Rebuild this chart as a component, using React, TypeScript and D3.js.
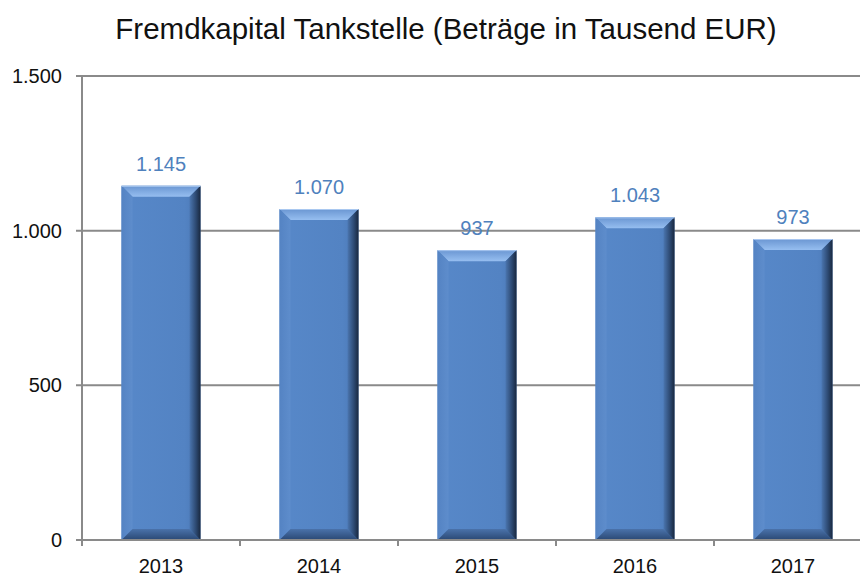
import React from "react";
import * as d3 from "d3";

const title = "Fremdkapital Tankstelle (Beträge in Tausend EUR)";
const years = ["2013", "2014", "2015", "2016", "2017"];
const values = [1145, 1070, 937, 1043, 973];
const yTicks = [0, 500, 1000, 1500];

const fmt = (v: number) => d3.format(",")(v).replace(/,/g, ".");

export default function App() {
  const W = 860, H = 576;
  const left = 82, right = 872, top = 76, bottom = 540;
  const x = d3.scaleBand<string>().domain(years).range([left, right]).paddingInner(0.5).paddingOuter(0.25);
  const y = d3.scaleLinear().domain([0, 1500]).range([bottom, top]);
  const step = x.step();
  const font = "'Liberation Sans', Arial, Helvetica, sans-serif";
  const bev = 11;

  return (
    <svg width={W} height={H} style={{ position: "absolute", left: 0, top: 0 }} fontFamily={font}>
      <defs>
        <linearGradient id="gTop" x1="0" y1="0" x2="0" y2="1">
          <stop offset="0" stopColor="#6A96D2" />
          <stop offset="1" stopColor="#96BEF0" />
        </linearGradient>
        <linearGradient id="gRight" x1="0" y1="0" x2="1" y2="0">
          <stop offset="0" stopColor="#4B76B0" />
          <stop offset="0.6" stopColor="#2C4870" />
          <stop offset="1" stopColor="#19283F" />
        </linearGradient>
        <linearGradient id="gBottom" x1="0" y1="0" x2="0" y2="1">
          <stop offset="0" stopColor="#4A72AA" />
          <stop offset="1" stopColor="#2A4874" />
        </linearGradient>
        <linearGradient id="gLeft" x1="0" y1="0" x2="1" y2="0">
          <stop offset="0" stopColor="#5483C3" />
          <stop offset="1" stopColor="#5E8DCC" />
        </linearGradient>
        <linearGradient id="gFace" x1="0" y1="0" x2="1" y2="0">
          <stop offset="0" stopColor="#5788C9" />
          <stop offset="0.8" stopColor="#5383C3" />
          <stop offset="1" stopColor="#4A77B4" />
        </linearGradient>
      </defs>
      <rect width={W} height={H} fill="#fff" />
      <text x={446} y={39} textAnchor="middle" fontSize={29.5} fill="#111">{title}</text>
      {yTicks.map((t) => (
        <g key={t}>
          {t > 0 && <line x1={left - 6} x2={W} y1={y(t)} y2={y(t)} stroke="#8a8a8a" strokeWidth={2} />}
          {t === 0 && <line x1={left - 6} x2={left} y1={y(t)} y2={y(t)} stroke="#8a8a8a" strokeWidth={2} />}
          <text x={62} y={y(t) + 7} textAnchor="end" fontSize={20} fill="#111">{fmt(t)}</text>
        </g>
      ))}
      {years.map((yr, i) => {
        const x0 = x(yr)!;
        const w = x.bandwidth();
        const y0 = y(values[i]);
        const x1 = x0 + w, y1 = bottom;
        const b = Math.min(bev, (y1 - y0) / 2);
        return (
          <g key={yr}>
            <rect x={x0} y={y0} width={w} height={y1 - y0} fill="url(#gFace)" />
            <polygon points={`${x0},${y0} ${x1},${y0} ${x1 - b},${y0 + b} ${x0 + b},${y0 + b}`} fill="url(#gTop)" />
            <polygon points={`${x0},${y0} ${x0 + b},${y0 + b} ${x0 + b},${y1 - b} ${x0},${y1}`} fill="url(#gLeft)" />
            <polygon points={`${x0},${y1} ${x0 + b},${y1 - b} ${x1 - b},${y1 - b} ${x1},${y1}`} fill="url(#gBottom)" />
            <polygon points={`${x1},${y0} ${x1},${y1} ${x1 - b},${y1 - b} ${x1 - b},${y0 + b}`} fill="url(#gRight)" />
            <line x1={x0} x2={x1} y1={y0 + 0.5} y2={y0 + 0.5} stroke="#A9C8F0" strokeWidth={1} />
            <text x={x0 + w / 2} y={y0 - 15} textAnchor="middle" fontSize={20} fill="#4F81BD">{fmt(values[i])}</text>
            <text x={x0 + w / 2} y={bottom + 33} textAnchor="middle" fontSize={20} fill="#111">{yr}</text>
          </g>
        );
      })}
      <line x1={left} x2={W} y1={bottom} y2={bottom} stroke="#8a8a8a" strokeWidth={2} />
      <line x1={left} x2={left} y1={top} y2={bottom + 6} stroke="#8a8a8a" strokeWidth={2} />
      {years.slice(1).map((yr) => (
        <line key={yr} x1={x(yr)! - step * 0.25} x2={x(yr)! - step * 0.25} y1={bottom} y2={bottom + 6} stroke="#8a8a8a" strokeWidth={2} />
      ))}
    </svg>
  );
}
